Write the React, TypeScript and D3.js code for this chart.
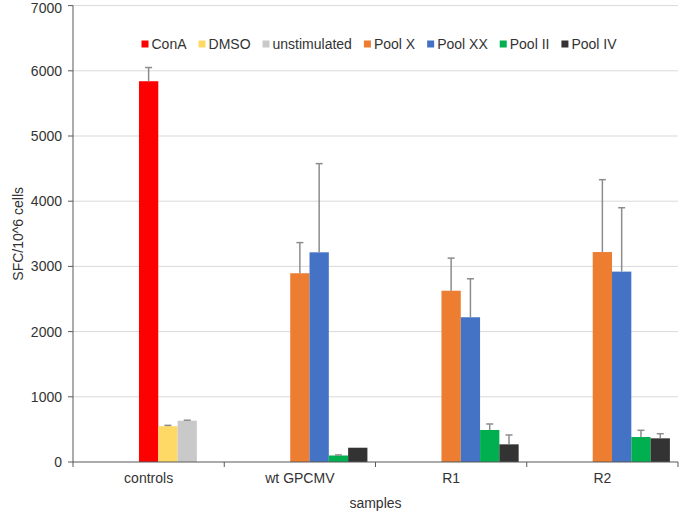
import React from "react";
import * as d3 from "d3";

const categories = ["controls", "wt GPCMV", "R1", "R2"];
const seriesNames = ["ConA", "DMSO", "unstimulated", "Pool X", "Pool XX", "Pool II", "Pool IV"];
const seriesColors = ["#ff0000", "#ffd966", "#c9c9c9", "#ed7d31", "#4472c4", "#00b050", "#333333"];

// values per category (null = not measured)
const conA = [5840, null, null, null];
const conAErr = [210, null, null, null];
const dmso = [550, null, null, null];
const dmsoErr = [12, null, null, null];
const unstim = [633, null, null, null];
const unstimErr = [8, null, null, null];
const poolX = [null, 2895, 2627, 3220];
const poolXErr = [null, 470, 500, 1110];
const poolXX = [null, 3216, 2220, 2920];
const poolXXErr = [null, 1360, 590, 980];
const poolII = [null, 100, 491, 383];
const poolIIErr = [null, 8, 92, 103];
const poolIV = [null, 219, 271, 363];
const poolIVErr = [null, 0, 143, 71];

const yTicks = [0, 1000, 2000, 3000, 4000, 5000, 6000, 7000];

const seriesValues = [conA, dmso, unstim, poolX, poolXX, poolII, poolIV];
const seriesErrors = [conAErr, dmsoErr, unstimErr, poolXErr, poolXXErr, poolIIErr, poolIVErr];

const W = 680, H = 515;
const FONT = "'Liberation Sans', Arial, sans-serif";
const TEXT = "#333";

function measure(text: string, size: number) {
  if (typeof document === "undefined") return text.length * size * 0.55;
  const c = document.createElement("canvas").getContext("2d");
  if (!c) return text.length * size * 0.55;
  c.font = `${size}px ${FONT}`;
  return c.measureText(text).width;
}

export default function App() {
  const left = 73, right = 678, top = 5.6, bottom = 462;
  const x0 = d3.scaleBand<string>().domain(categories).range([left, right]).padding(0);
  const bw = x0.bandwidth();
  const gap = bw * 0.107;
  const x1 = d3.scaleBand<number>().domain(d3.range(7)).range([gap / 2, bw - gap / 2]).padding(0);
  const y = d3.scaleLinear().domain([0, 7000]).range([bottom, top]);

  const bars: any[] = [];
  categories.forEach((cat, ci) => {
    let slot = 3;
    seriesValues.forEach((vals, si) => {
      const v = vals[ci];
      if (v == null) return;
      bars.push({ cat, si, slot, v, e: seriesErrors[si][ci] });
      slot++;
    });
  });

  // legend layout
  let lx = 141.5;
  const legend = seriesNames.map((n, i) => {
    const item = { n, i, x: lx };
    lx += 10 + measure(n, 14) + 12;
    return item;
  });

  const boundaries = categories.map((c) => x0(c)!).concat([right]);

  return (
    <svg width={W} height={H} style={{ position: "absolute", left: 0, top: 0, background: "#fff" }}>
      <rect width={W} height={H} fill="#fff" />
      {yTicks.filter((t) => t > 0).map((t) => (
        <line key={t} x1={left} x2={right} y1={y(t)} y2={y(t)} stroke="#d9d9d9" strokeWidth={1} />
      ))}
      {bars.map((b, k) => {
        const bx = x0(b.cat)! + x1(b.slot)!;
        return (
          <rect key={k} x={bx} y={y(b.v)} width={x1.bandwidth()} height={bottom - y(b.v)} fill={seriesColors[b.si]} />
        );
      })}
      {bars.filter((b) => b.e && b.e > 0).map((b, k) => {
        const cx = x0(b.cat)! + x1(b.slot)! + x1.bandwidth() / 2;
        return (
          <g key={k} stroke="#8c8c8c" strokeWidth={1.5}>
            <line x1={cx} x2={cx} y1={y(b.v)} y2={y(b.v + b.e)} />
            <line x1={cx - 3.5} x2={cx + 3.5} y1={y(b.v + b.e)} y2={y(b.v + b.e)} />
          </g>
        );
      })}
      {/* y axis */}
      <line x1={left} x2={left} y1={top} y2={bottom} stroke="#595959" strokeWidth={1} />
      {yTicks.map((t) => (
        <g key={t}>
          <line x1={left - 5} x2={left} y1={y(t)} y2={y(t)} stroke="#595959" />
          <text x={left - 11} y={Math.max(y(t), 8)} dy="0.36em" textAnchor="end" fontSize={14} fontFamily={FONT} fill={TEXT}>
            {t}
          </text>
        </g>
      ))}
      {/* x axis */}
      <line x1={left} x2={right} y1={bottom} y2={bottom} stroke="#595959" strokeWidth={1.2} />
      {boundaries.map((bx, i) => (
        <line key={i} x1={bx} x2={bx} y1={bottom} y2={bottom + 5} stroke="#595959" />
      ))}
      {categories.map((c) => (
        <text key={c} x={x0(c)! + bw / 2} y={483} textAnchor="middle" fontSize={14} fontFamily={FONT} fill={TEXT}>
          {c}
        </text>
      ))}
      <text x={(left + right) / 2} y={508} textAnchor="middle" fontSize={14} fontFamily={FONT} fill={TEXT}>
        samples
      </text>
      <text transform={`translate(23,${(top + bottom) / 2}) rotate(-90)`} textAnchor="middle" fontSize={14} fontFamily={FONT} fill={TEXT}>
        SFC/10^6 cells
      </text>
      {/* legend */}
      {legend.map((l) => (
        <g key={l.n}>
          <rect x={l.x} y={40.5} width={7} height={7} fill={seriesColors[l.i]} />
          <text x={l.x + 10} y={49} fontSize={14} fontFamily={FONT} fill={TEXT}>
            {l.n}
          </text>
        </g>
      ))}
    </svg>
  );
}
